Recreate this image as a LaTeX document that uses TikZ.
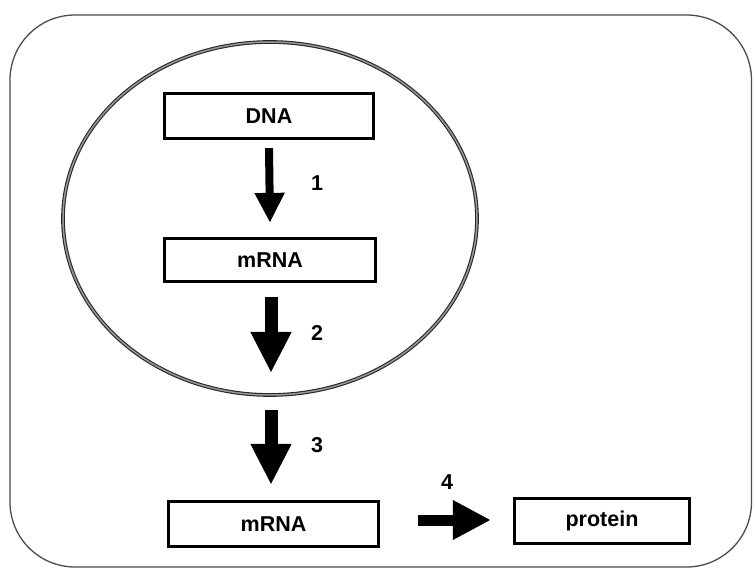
\documentclass[tikz,border=0pt]{standalone}
\usepackage{fontspec}
\setmainfont{Liberation Sans}
\usetikzlibrary{arrows.meta}
\begin{document}
\begin{tikzpicture}[x=1pt,y=1pt,
  box/.style={draw=black, line width=3.2pt, fill=white, inner sep=0pt,
    font=\fontsize{21.5}{24}\selectfont\bfseries},
  numlabel/.style={font=\fontsize{21.5}{24}\selectfont\bfseries, inner sep=0pt},
  thinarrow/.style={line width=8pt, -{Triangle[length=30pt,width=28pt]}},
  bigarrow/.style={line width=13pt, -{Triangle[length=41pt,width=38pt]}},
  sidearrow/.style={line width=11pt, -{Triangle[length=38pt,width=37pt]}}
]
\useasboundingbox (0,0) rectangle (753,571);
% outer frame
\draw[black!70, line width=1.3pt, rounded corners=65pt] (10,4) rectangle (751.5,556);
% nucleus ellipse
\draw[draw=black!85, line width=1.1pt, double=black!40, double distance=1.5pt]
  (270,352.5) ellipse [x radius=207, y radius=176.5];
% boxes
\node[box, minimum width=209pt, minimum height=45pt] (dna) at (269,455) {DNA};
\node[box, minimum width=211pt, minimum height=43pt] (mrna1) at (270,311) {mRNA};
\node[box, minimum width=210pt, minimum height=45pt] (mrna2) at (273.5,47) {mRNA};
\node[box, minimum width=175pt, minimum height=45pt] (prot) at (602,50) {protein};
% free ends
\coordinate (c2) at (271,198);
\coordinate (c3) at (271,161);
% arrows
\draw[thinarrow] ([yshift=-8pt]dna.south) -- ([yshift=14pt]mrna1.north);
\draw[bigarrow] ([xshift=1pt,yshift=-14pt]mrna1.south) -- (c2);
\draw[bigarrow] (c3) -- ([xshift=-2.5pt,yshift=15pt]mrna2.north);
\draw[sidearrow] ([xshift=38pt,yshift=4pt]mrna2.east) -- ([xshift=-22pt,yshift=1pt]prot.west);
% labels
\node[numlabel] (l1) at (317,388) {1};
\node[numlabel] (l2) at (317,238) {2};
\node[numlabel] (l3) at (317,126) {3};
\node[numlabel] (l4) at (447,89) {4};
\end{tikzpicture}
\end{document}
